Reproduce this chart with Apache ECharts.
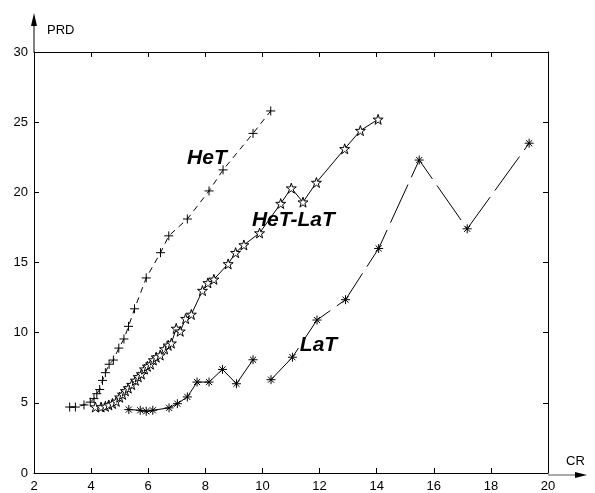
<!DOCTYPE html>
<html><head><meta charset="utf-8">
<script src="https://cdn.jsdelivr.net/npm/echarts@6/dist/echarts.min.js"></script>
<style>html,body{margin:0;padding:0;background:#fff;}#c{width:595px;height:493px;}</style>
</head><body><div id="c"></div>
<script>
// ---- data ----
const xTicks = [2,4,6,8,10,12,14,16,18,20];
const yTicks = [0,5,10,15,20,25,30];
const hetX = [3.25,3.45,3.75,3.97,4.10,4.20,4.30,4.40,4.50,4.63,4.78,4.97,5.15,5.31,5.52,5.93,6.43,6.72,7.37,8.13,8.62,9.67,10.29];
const hetY = [4.70,4.70,4.85,5.05,5.30,5.65,5.95,6.60,7.15,7.75,8.05,8.90,9.55,10.45,11.70,13.90,15.70,16.90,18.10,20.10,21.60,24.20,25.80];
const hlX = [4.15,4.35,4.50,4.62,4.75,4.88,5.00,5.10,5.20,5.30,5.42,5.55,5.65,5.76,5.87,5.97,6.08,6.18,6.28,6.42,6.57,6.70,6.81,6.98,7.12,7.31,7.51,7.90,8.09,8.30,8.80,9.06,9.35,9.90,10.64,11.01,11.42,11.89,12.88,13.43,14.05];
const hlY = [4.70,4.70,4.75,4.85,4.95,5.10,5.40,5.60,5.85,6.05,6.30,6.60,6.85,7.05,7.40,7.60,7.75,8.05,8.25,8.40,8.84,9.10,9.25,10.30,10.10,11.00,11.30,13.00,13.55,13.80,14.90,15.70,16.25,17.10,19.20,20.30,19.30,20.70,23.10,24.40,25.20];
const latX1 = [5.32,5.72,5.93,6.16,6.73,7.02,7.37,7.71,8.13,8.60,9.09,9.67];
const latY1 = [4.52,4.47,4.40,4.47,4.64,4.94,5.42,6.48,6.48,7.38,6.36,8.07];
const latX2 = [10.30,11.05,11.91,12.91,14.07,15.49,17.17,19.34];
const latY2 = [6.65,8.25,10.90,12.35,16.00,22.30,17.40,23.50];
const seriesLabels = [
  {text:'HeT', x:7.36, y:22.3},
  {text:'HeT-LaT', x:9.63, y:17.9},
  {text:'LaT', x:11.31, y:9.0}
];
// ---- chart ----
const FONT = '"Liberation Sans", Arial, sans-serif';
const zip = (a,b)=>a.map((v,i)=>[v,b[i]]);
const G = {left:34, right:47, top:52, bottom:18};
const W = 595, H = 493;
const plusPath = 'path://M0,5L10,5M5,0L5,10';
const starPath = 'path://M5,0L6.2,3.6L10,3.6L6.9,5.9L8.1,9.5L5,7.3L1.9,9.5L3.1,5.9L0,3.6L3.8,3.6Z';
const astPath = 'path://M0,5L10,5M5,0L5,10M1.6,1.6L8.4,8.4M1.6,8.4L8.4,1.6';
const axisCommon = {
  type:'value', min:2, max:20, interval:2,
  axisLine:{show:true, onZero:false, lineStyle:{color:'#000', width:1}},
  axisTick:{show:true, inside:true, length:5, lineStyle:{color:'#000'}},
  splitLine:{show:false}
};
const chart = echarts.init(document.getElementById('c'), null, {renderer:'canvas'});
const lineSeries = (data, sym, size, fill, lineType) => ({
  type:'line', data, symbol:sym, symbolSize:size, showSymbol:true,
  lineStyle:{color:'#000', width:1, type:lineType},
  itemStyle:{color:fill, borderColor:'#000', borderWidth:1},
  emphasis:{disabled:true}, animation:false, z:3
});
chart.setOption({
  animation:false,
  backgroundColor:'#fff',
  grid:G,
  xAxis:[
    Object.assign({}, axisCommon, {position:'bottom',
      axisLabel:{show:true, color:'#000', fontSize:13, fontFamily:FONT, margin:7,
        formatter:v=>xTicks.includes(v)?String(v):''}}),
    Object.assign({}, axisCommon, {position:'top', axisLabel:{show:false}})
  ],
  yAxis:[
    Object.assign({}, axisCommon, {min:0, max:30, interval:5, position:'left',
      axisLabel:{show:true, color:'#000', fontSize:13, fontFamily:FONT, margin:6,
        formatter:v=>yTicks.includes(v)?String(v):''}}),
    Object.assign({}, axisCommon, {min:0, max:30, interval:5, position:'right', axisLabel:{show:false}})
  ],
  series:[
    lineSeries(zip(hetX,hetY), plusPath, 9, 'none', [6,5]),
    lineSeries(zip(hlX,hlY), starPath, 10, '#fff', 'solid'),
    lineSeries(zip(latX1,latY1), astPath, 9, 'none', 'solid'),
    lineSeries(zip(latX2,latY2), astPath, 9, 'none', [42,8])
  ]
});
// decorations: axis arrows, axis names, curve labels
const x0 = G.left, x1 = W - G.right, yb = H - G.bottom, yt = G.top;
const lbls = seriesLabels.map(l=>{
  const p = chart.convertToPixel({xAxisIndex:0, yAxisIndex:0}, [l.x, l.y]);
  return {type:'text', left:p[0], top:p[1]-12, z:10,
    style:{text:l.text, font:'italic bold 21px '+FONT, fill:'#000'}};
});
chart.setOption({graphic:[
  {type:'line', shape:{x1:x0, y1:yt, x2:x0, y2:20}, style:{stroke:'#000', lineWidth:1}},
  {type:'polygon', shape:{points:[[x0-3,26],[x0+3,26],[x0,13]]}, style:{fill:'#000'}},
  {type:'line', shape:{x1:x1, y1:yb, x2:x1+32, y2:yb}, style:{stroke:'#555', lineWidth:1}},
  {type:'polygon', shape:{points:[[x1+27,yb-3],[x1+27,yb+3],[x1+39,yb]]}, style:{fill:'#000'}},
  {type:'text', left:47, top:24, style:{text:'PRD', font:'13px '+FONT, fill:'#000'}},
  {type:'text', left:566, top:455, style:{text:'CR', font:'13px '+FONT, fill:'#000'}}
].concat(lbls)});
</script></body></html>
